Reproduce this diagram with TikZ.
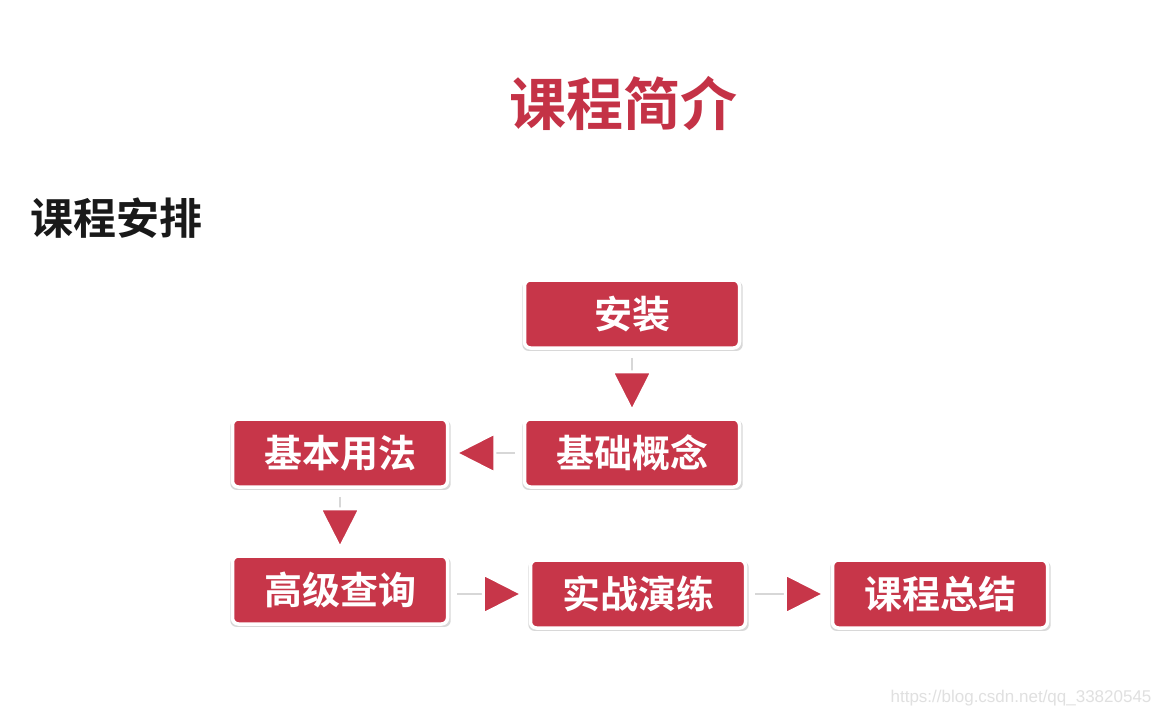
\documentclass[tikz,border=0pt]{standalone}
\usepackage{fontspec}
\newfontfamily\cjk{Noto Sans CJK SC}[BoldFont={Noto Sans CJK SC Bold}]
\newfontfamily\wmfont{Liberation Sans}
\usetikzlibrary{arrows.meta,shadows}
\definecolor{boxred}{RGB}{199,54,73}
\definecolor{titlered}{RGB}{196,50,70}
\definecolor{stemgrey}{RGB}{215,215,215}
\tikzset{
  stepbox/.style={rectangle, rounded corners=6pt, fill=boxred, draw=white, line width=3.5pt,
    minimum width=215pt, minimum height=68pt, text=white,
    font=\cjk\bfseries\fontsize{38}{42}\selectfont,
    drop shadow={opacity=0.25, fill=black!60, shadow scale=1.025, shadow xshift=0.5pt, shadow yshift=-2pt}},
  conn/.style={stemgrey, line width=2pt,
    -{Triangle[length=44pt,width=44pt,fill=boxred,color=white,line width=3pt]},
    shorten <=8pt, shorten >=3pt}
}
\begin{document}
\begin{tikzpicture}[x=1pt,y=-1pt]
\useasboundingbox (0,0) rectangle (1161,722);
\fill[white] (0,0) rectangle (1161,722);
\node[text=titlered, font=\cjk\bfseries\fontsize{57}{62}\selectfont] (title) at (623,103) {课程简介};
\node[text=black!90, font=\cjk\bfseries\fontsize{43}{48}\selectfont] (sub) at (116,218) {课程安排};
\node[stepbox] (az) at (632,314) {安装};
\node[stepbox] (jc) at (632,453) {基础概念};
\node[stepbox] (jb) at (340,453) {基本用法};
\node[stepbox] (gj) at (340,590) {高级查询};
\node[stepbox] (sz) at (638,594) {实战演练};
\node[stepbox] (zj) at (940,594) {课程总结};
\draw[conn] (az) -- (jc);
\draw[conn] (jc) -- (jb);
\draw[conn] (jb) -- (gj);
\draw[conn] (gj.east |- sz) -- (sz);
\draw[conn] (sz) -- (zj);
\node[text=black!12, font=\wmfont\fontsize{17}{20}\selectfont, anchor=east] (wm) at (1155,698) {https://blog.csdn.net/qq\_33820545};
\end{tikzpicture}
\end{document}
